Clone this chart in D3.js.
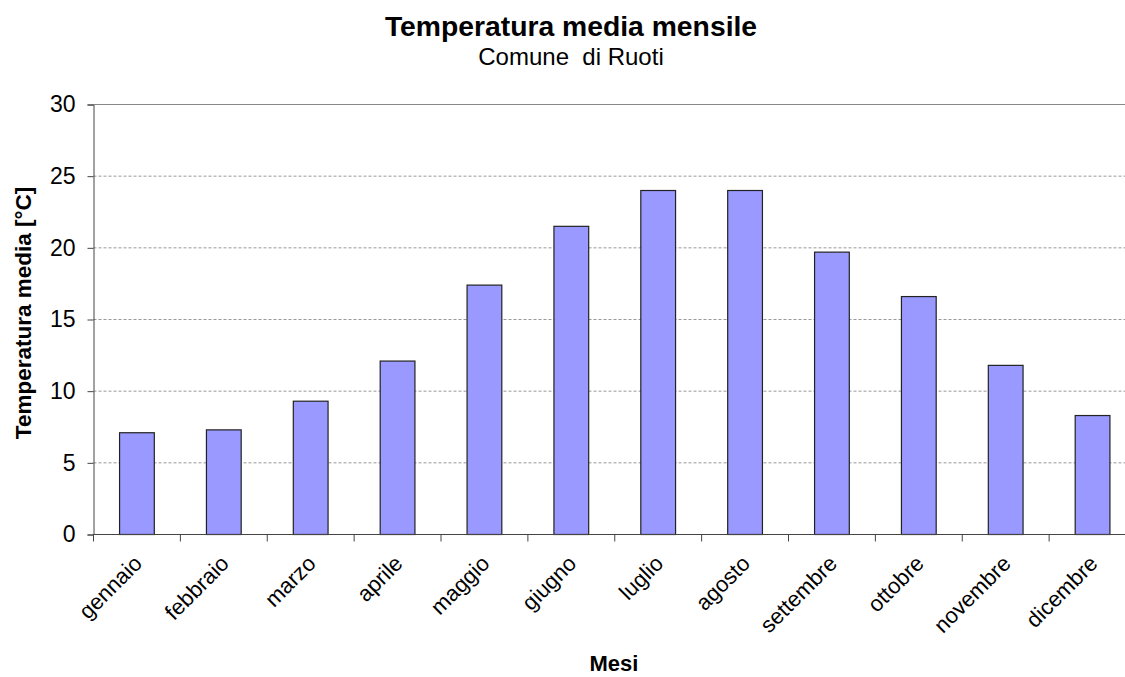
<!DOCTYPE html>
<html><head><meta charset="utf-8">
<script src="https://cdn.jsdelivr.net/npm/d3@7"></script>
<style>body{margin:0;background:#fff;} text{font-family:"Liberation Sans",Arial,sans-serif;}</style>
</head><body>
<svg id="c" width="1125" height="677"></svg>
<script>
const months = ["gennaio","febbraio","marzo","aprile","maggio","giugno","luglio","agosto","settembre","ottobre","novembre","dicembre"];
const temps = [7.1, 7.3, 9.3, 12.1, 17.4, 21.5, 24.0, 24.0, 19.7, 16.6, 11.8, 8.3];
const yTicks = [0, 5, 10, 15, 20, 25, 30];
const title = "Temperatura media mensile";
const subtitle = "Comune  di Ruoti";
const yTitle = "Temperatura media [°C]";
const xTitle = "Mesi";

(function(){
const svg = d3.select("#c");
const pL = 93.5, pR = 1136, pT = 104.5, pB = 534.5;
const x = d3.scaleBand().domain(months).range([pL, pR]).paddingInner(0).paddingOuter(0);
const y = d3.scaleLinear().domain([0, 30]).range([pB, pT]);

// gridlines
svg.append("g").selectAll("line").data(yTicks.filter(d => d > 0 && d < 30)).join("line")
  .attr("x1", pL).attr("x2", 1125).attr("y1", d => y(d)).attr("y2", d => y(d))
  .attr("stroke", "#999").attr("stroke-dasharray", "3,2").attr("stroke-width", 1);
svg.append("line").attr("x1", pL).attr("x2", 1125).attr("y1", y(30)).attr("y2", y(30))
  .attr("stroke", "#888").attr("stroke-width", 1);

// bars
const bw = x.bandwidth() * 0.4;
svg.append("g").selectAll("rect").data(months).join("rect")
  .attr("x", (d) => x(d) + (x.bandwidth() - bw) / 2)
  .attr("y", (d, i) => y(temps[i]))
  .attr("width", bw)
  .attr("height", (d, i) => y(0) - y(temps[i]))
  .attr("fill", "#9999FF").attr("stroke", "#222").attr("stroke-width", 1.2);

// y axis
const ya = svg.append("g").attr("transform", `translate(${pL},0)`)
  .call(d3.axisLeft(y).tickValues(yTicks).tickSize(6).tickPadding(12).tickFormat(d3.format("d")));
ya.select(".domain").attr("stroke", "#444");
ya.selectAll(".tick line").attr("stroke", "#444");
ya.selectAll("text").attr("font-size", 23).attr("fill", "#000").attr("font-family", "Liberation Sans, Arial, sans-serif");

// x axis
const xa = svg.append("g").attr("transform", `translate(0,${pB})`);
xa.append("line").attr("x1", pL).attr("x2", 1125).attr("y1", 0).attr("y2", 0).attr("stroke", "#444");
xa.selectAll("line.t").data(months).join("line").attr("class", "t")
  .attr("x1", d => x(d)).attr("x2", d => x(d)).attr("y1", 0).attr("y2", 7).attr("stroke", "#444");
xa.selectAll("text").data(months).join("text")
  .attr("transform", d => `translate(${x(d) + x.bandwidth() / 2 + 1},${25}) rotate(-45)`)
  .attr("text-anchor", "end").attr("dy", "0.35em")
  .attr("font-size", 22).attr("fill", "#000").text(d => d);

// titles
svg.append("text").attr("x", 571).attr("y", 35.5).attr("text-anchor", "middle")
  .attr("font-size", 28.3).attr("font-weight", "bold").text(title);
svg.append("text").attr("x", 571).attr("y", 65).attr("text-anchor", "middle")
  .attr("font-size", 24).style("white-space", "pre").text(subtitle);
svg.append("text").attr("transform", "translate(31,313) rotate(-90)").attr("text-anchor", "middle")
  .attr("font-size", 22.5).attr("font-weight", "bold").text(yTitle);
svg.append("text").attr("x", 614).attr("y", 671).attr("text-anchor", "middle")
  .attr("font-size", 22).attr("font-weight", "bold").text(xTitle);
})();
</script>
</body></html>
